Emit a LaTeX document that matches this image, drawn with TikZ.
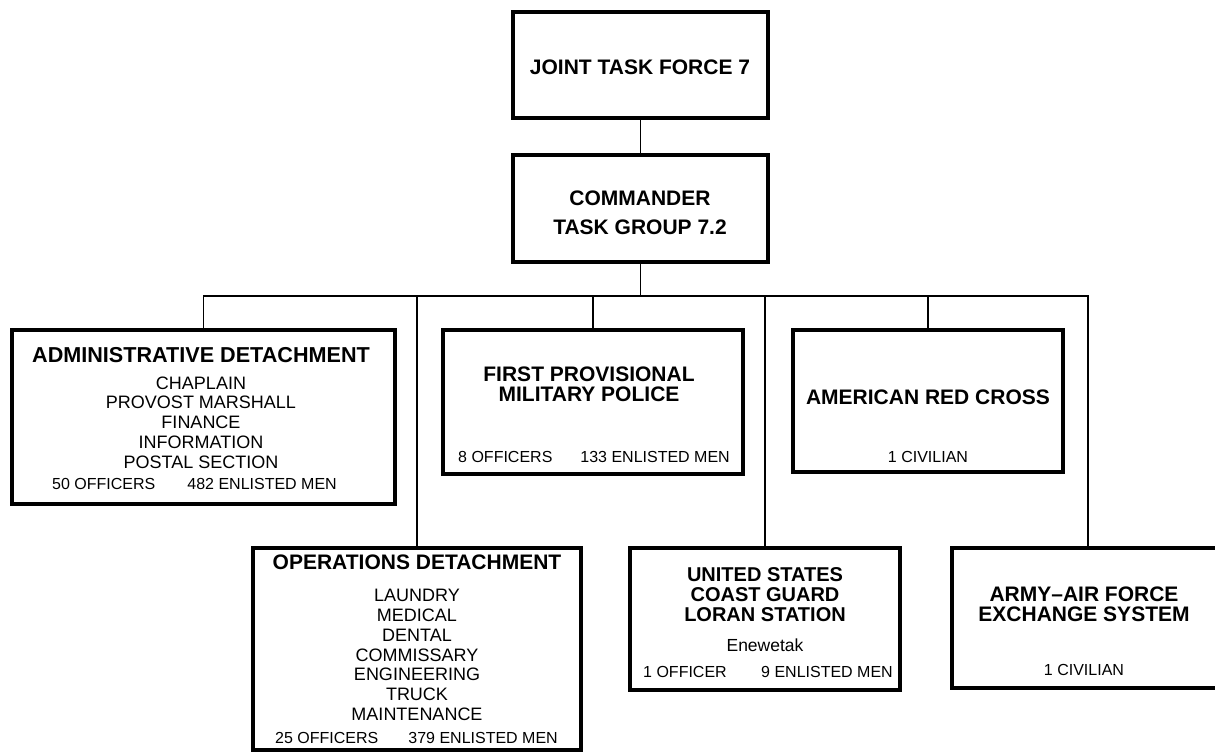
\documentclass[tikz,border=0pt]{standalone}
\usepackage{fontspec}
\setmainfont{Liberation Sans}
\begin{document}
\begin{tikzpicture}[x=1pt,y=-1pt,
  box/.style={draw, line width=3.2pt, inner sep=0pt, outer sep=0pt},
  link/.style={line width=1.8pt},
  ttl/.style={font=\bfseries\fontsize{21}{20}\selectfont, align=center, inner sep=0pt},
  items/.style={font=\fontsize{18}{19.75}\selectfont, align=center, inner sep=0pt},
  cnt/.style={font=\fontsize{16}{18}\selectfont, inner sep=0pt}]
\useasboundingbox (0,0) rectangle (1215,755);
\fill[white] (0,0) rectangle (1215,755);
% boxes
\node[box, minimum width=255pt, minimum height=106pt] (jtf) at (640.5,65) {};
\node[box, minimum width=255pt, minimum height=107pt] (cmd) at (640.5,208.5) {};
\node[box, minimum width=383pt, minimum height=174pt] (admin) at (203.5,417) {};
\node[box, minimum width=300pt, minimum height=144pt] (fpmp) at (593,402) {};
\node[box, minimum width=270pt, minimum height=142pt] (arc) at (928,401) {};
\node[box, minimum width=328pt, minimum height=202pt] (ops) at (417,649) {};
\node[box, minimum width=270pt, minimum height=142pt] (uscg) at (765,619) {};
\node[box, minimum width=272pt, minimum height=140pt] (aafes) at (1088,618) {};
\coordinate (bus) at (0,296);
% connectors
\draw[link] (jtf.south) -- (cmd.north);
\draw[link] (cmd.south) -- (cmd.south |- bus);
\draw[link] (admin.north) -- (admin.north |- bus) -- (aafes.north |- bus) -- (aafes.north);
\draw[link] (fpmp.north) -- (fpmp.north |- bus);
\draw[link] (arc.north) -- (arc.north |- bus);
\draw[link] (ops.north) -- (ops.north |- bus);
\draw[link] (uscg.north) -- (uscg.north |- bus);
% texts
\node[ttl] (jtfT) at (640,67) {JOINT TASK FORCE 7};
\node[ttl, font=\bfseries\fontsize{21}{29}\selectfont] (cmdT) at (640,212.5) {COMMANDER\\TASK GROUP 7.2};
\node[ttl, font=\bfseries\fontsize{21.6}{20}\selectfont] (adminT) at (201,355) {ADMINISTRATIVE DETACHMENT};
\node[items] (adminL) at (201,422.5) {CHAPLAIN\\PROVOST MARSHALL\\FINANCE\\INFORMATION\\POSTAL SECTION};
\node[cnt, anchor=west] (adminO) at (52,484) {50 OFFICERS};
\node[cnt, anchor=east] (adminE) at (337,484) {482 ENLISTED MEN};
\node[ttl] (fpmpT) at (589,384) {FIRST PROVISIONAL\\MILITARY POLICE};
\node[cnt, anchor=west] (fpmpO) at (458,457) {8 OFFICERS};
\node[cnt, anchor=east] (fpmpE) at (730,457) {133 ENLISTED MEN};
\node[ttl] (arcT) at (928,397) {AMERICAN RED CROSS};
\node[cnt] (arcC) at (928,457) {1 CIVILIAN};
\node[ttl] (opsT) at (417,562) {OPERATIONS DETACHMENT};
\node[items] (opsL) at (417,655) {LAUNDRY\\MEDICAL\\DENTAL\\COMMISSARY\\ENGINEERING\\TRUCK\\MAINTENANCE};
\node[cnt, anchor=west] (opsO) at (275,738) {25 OFFICERS};
\node[cnt, anchor=east] (opsE) at (558,738) {379 ENLISTED MEN};
\node[ttl, font=\bfseries\fontsize{20}{20}\selectfont] (uscgT) at (765,595) {UNITED STATES\\COAST GUARD\\LORAN STATION};
\node[items, font=\fontsize{17.5}{19}\selectfont] (uscgP) at (765,645) {Enewetak};
\node[cnt, anchor=west] (uscgO) at (643,672) {1 OFFICER};
\node[cnt, anchor=east] (uscgE) at (893,672) {9 ENLISTED MEN};
\node[ttl] (aafesT) at (1084,604) {ARMY--AIR FORCE\\EXCHANGE SYSTEM};
\node[cnt] (aafesC) at (1084,670) {1 CIVILIAN};
\end{tikzpicture}
\end{document}
